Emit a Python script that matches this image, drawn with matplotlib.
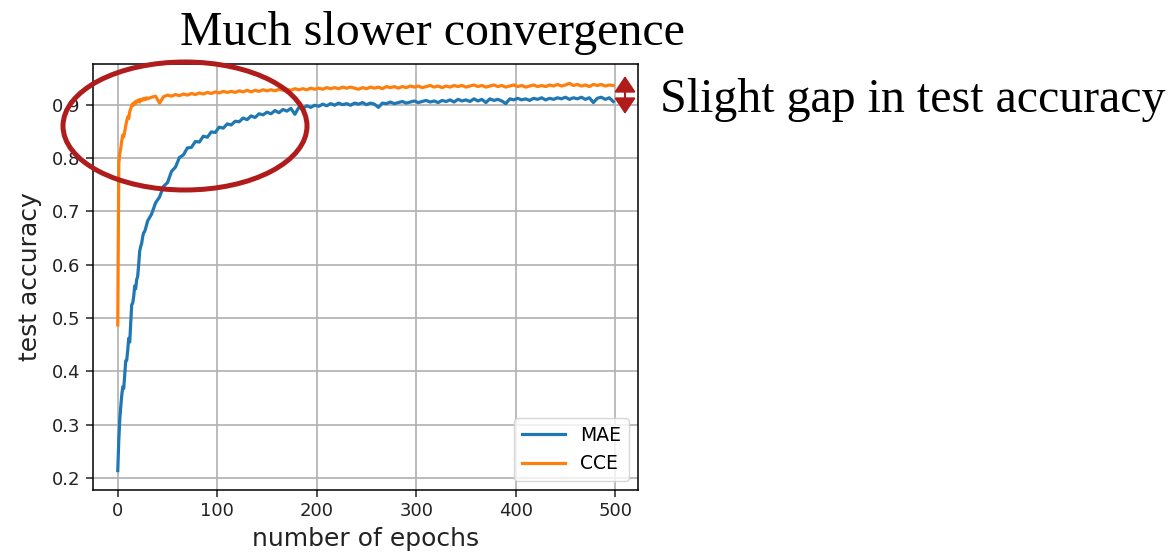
import matplotlib
matplotlib.use("Agg")
import matplotlib.pyplot as plt
from matplotlib.patches import Ellipse, FancyArrowPatch

# epochs: every epoch at the start, then every 4th
epochs = list(range(0, 30)) + list(range(30, 499, 4))

# MAE test accuracy
mae_acc = [
    0.214, 0.270, 0.310, 0.334, 0.355, 0.371, 0.368, 0.395, 0.420, 0.421,
    0.440, 0.462, 0.455, 0.490, 0.525, 0.528, 0.540, 0.560, 0.555, 0.572,
    0.578, 0.600, 0.625, 0.634, 0.640, 0.652, 0.660, 0.662, 0.668, 0.675,
    # from epoch 30, step 4
    0.682, 0.695, 0.716, 0.727, 0.747, 0.754, 0.775, 0.783, 0.801, 0.806,
    0.819, 0.820, 0.831, 0.830, 0.841, 0.839, 0.849, 0.848, 0.858, 0.856,
    0.864, 0.862, 0.869, 0.868, 0.875, 0.872, 0.879, 0.876, 0.883, 0.881,
    0.886, 0.883, 0.889, 0.885, 0.891, 0.888, 0.893, 0.882, 0.895, 0.893,
    0.898, 0.895, 0.899, 0.897, 0.901, 0.898, 0.902, 0.899, 0.903, 0.900,
    0.902, 0.899, 0.903, 0.901, 0.904, 0.900, 0.903, 0.901, 0.895, 0.903,
    0.902, 0.905, 0.902, 0.904, 0.906, 0.903, 0.905, 0.907, 0.904, 0.906,
    0.908, 0.905, 0.907, 0.904, 0.908, 0.906, 0.909, 0.905, 0.910, 0.907,
    0.909, 0.906, 0.911, 0.907, 0.910, 0.904, 0.911, 0.908, 0.910, 0.907,
    0.902, 0.911, 0.909, 0.912, 0.909, 0.911, 0.908, 0.912, 0.910, 0.913,
    0.909, 0.912, 0.910, 0.913, 0.911, 0.914, 0.910, 0.913, 0.911, 0.914,
    0.910, 0.913, 0.904, 0.912, 0.914, 0.910, 0.913, 0.906,
]

# CCE test accuracy
cce_acc = [
    0.487, 0.790, 0.808, 0.818, 0.832, 0.843, 0.840, 0.850, 0.860, 0.870,
    0.877, 0.874, 0.887, 0.892, 0.898, 0.902, 0.899, 0.905, 0.902, 0.907,
    0.906, 0.909, 0.905, 0.910, 0.908, 0.911, 0.909, 0.912, 0.910, 0.913,
    # from epoch 30, step 4
    0.911, 0.914, 0.916, 0.903, 0.915, 0.918, 0.916, 0.919, 0.917, 0.920,
    0.918, 0.921, 0.919, 0.922, 0.920, 0.923, 0.921, 0.924, 0.922, 0.925,
    0.923, 0.925, 0.923, 0.926, 0.924, 0.927, 0.924, 0.927, 0.925, 0.928,
    0.926, 0.928, 0.926, 0.929, 0.927, 0.929, 0.927, 0.930, 0.928, 0.930,
    0.928, 0.931, 0.929, 0.931, 0.929, 0.932, 0.930, 0.932, 0.930, 0.933,
    0.931, 0.933, 0.931, 0.929, 0.932, 0.930, 0.933, 0.931, 0.933, 0.930,
    0.934, 0.932, 0.934, 0.931, 0.934, 0.932, 0.935, 0.933, 0.935, 0.932,
    0.934, 0.936, 0.933, 0.935, 0.932, 0.935, 0.933, 0.936, 0.934, 0.936,
    0.933, 0.935, 0.937, 0.934, 0.936, 0.933, 0.935, 0.937, 0.934, 0.936,
    0.933, 0.935, 0.937, 0.934, 0.936, 0.933, 0.935, 0.937, 0.934, 0.936,
    0.934, 0.937, 0.935, 0.938, 0.935, 0.937, 0.940, 0.936, 0.938, 0.935,
    0.937, 0.934, 0.938, 0.936, 0.938, 0.935, 0.937, 0.936,
]

W, H = 1169, 555
RED = "#b01c1c"

fig = plt.figure(figsize=(W / 100, H / 100), dpi=100)
ax = fig.add_axes([93 / W, 1 - 490 / H, (638 - 93) / W, (490 - 64) / H])

ax.plot(epochs, mae_acc, color="#1f77b4", lw=2.3, label="MAE")
ax.plot(epochs, cce_acc, color="#ff7f0e", lw=2.3, label="CCE")

ax.grid(True, color="#b0b0b0", lw=1.2)
for s in ax.spines.values():
    s.set_linewidth(1.1)
ax.tick_params(labelsize=13, length=5, width=1.1, pad=4, colors="#222222")
ax.set_xlabel("number of epochs", fontsize=18, labelpad=5, color="#222222")
ax.set_ylabel("test accuracy", fontsize=18, labelpad=7, color="#222222")
ax.legend(loc="lower right", fontsize=13.5, handlelength=2.3)

# annotations on top of the plot
serif = "Liberation Serif"
fig.text(180 / W, 1 - 45 / H, "Much slower convergence", family=serif,
         fontsize=34.5, ha="left", va="baseline")
fig.text(660 / W, 1 - 112 / H, "Slight gap in test accuracy", family=serif,
         fontsize=34.5, ha="left", va="baseline")

fig.add_artist(Ellipse((185 / W, 1 - 126 / H), 244 / W, 128 / H,
                       transform=fig.transFigure, fill=False,
                       edgecolor=RED, lw=3.6))
fig.add_artist(FancyArrowPatch((625 / W, 1 - 114 / H), (625 / W, 1 - 76 / H),
                               transform=fig.transFigure,
                               arrowstyle="<|-|>,head_length=0.9,head_width=0.6",
                               mutation_scale=11, color=RED, lw=1.5,
                               shrinkA=0, shrinkB=0))

fig.savefig("out.png", dpi=100)
